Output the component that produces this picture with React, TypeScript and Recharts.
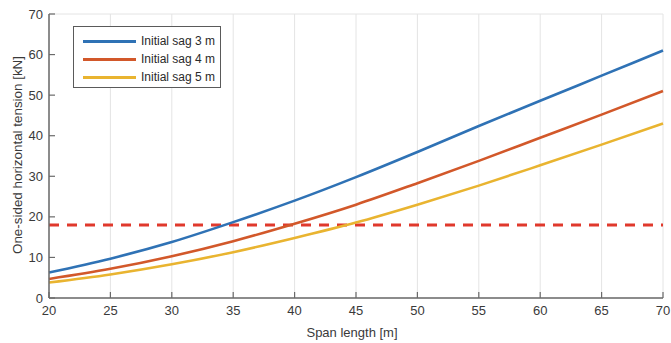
import React from "react";
import { LineChart, Line, XAxis, YAxis, CartesianGrid, ReferenceLine } from "recharts";

const spans = [20, 25, 30, 35, 40, 45, 50, 55, 60, 65, 70];
const sag3 = [6.3, 9.7, 13.8, 18.7, 24.0, 29.8, 36.0, 42.4, 48.6, 54.8, 61.0];
const sag4 = [4.7, 7.2, 10.3, 14.0, 18.3, 23.0, 28.3, 33.8, 39.5, 45.2, 51.0];
const sag5 = [3.8, 5.8, 8.3, 11.3, 14.8, 18.6, 23.0, 27.7, 32.7, 37.8, 43.0];
const threshold = 18;
const xTicks = [20, 25, 30, 35, 40, 45, 50, 55, 60, 65, 70];
const yTicks = [0, 10, 20, 30, 40, 50, 60, 70];
const seriesNames = ["Initial sag 3 m", "Initial sag 4 m", "Initial sag 5 m"];
const colors = ["#2f72b5", "#d2582a", "#e9b430"];

const data = spans.map((s, i) => ({ span: s, sag3: sag3[i], sag4: sag4[i], sag5: sag5[i] }));

const FONT = "'Liberation Sans', Arial, sans-serif";
const TXT = "#3a3a3a";
const AX = "#6a6a6a";

const BottomTick = (p: any) => (
  <g>
    <line x1={p.x} x2={p.x} y1={p.y} y2={p.y - 6} stroke={AX} strokeWidth={1.2} />
    <text x={p.x} y={p.y + 17} textAnchor="middle" fontSize={13} fill={TXT} fontFamily={FONT}>
      {p.payload.value}
    </text>
  </g>
);
const TopTick = (p: any) => (
  <line x1={p.x} x2={p.x} y1={p.y} y2={p.y + 6} stroke={AX} strokeWidth={1.2} />
);
const LeftTick = (p: any) => (
  <g>
    <line x1={p.x} x2={p.x + 6} y1={p.y} y2={p.y} stroke={AX} strokeWidth={1.2} />
    <text x={p.x - 6} y={p.y + 4.5} textAnchor="end" fontSize={13} fill={TXT} fontFamily={FONT}>
      {p.payload.value}
    </text>
  </g>
);
const RightTick = (p: any) => (
  <line x1={p.x} x2={p.x - 6} y1={p.y} y2={p.y} stroke={AX} strokeWidth={1.2} />
);

export default function App() {
  return (
    <div style={{ position: "absolute", left: 0, top: 0, width: 671, height: 343, background: "#fff", fontFamily: FONT }}>
      <LineChart width={671} height={343} data={data} margin={{ top: 14, right: 8, left: 9, bottom: 15 }}>
        <CartesianGrid stroke="#e4e4e4" strokeWidth={1} />
        <XAxis
          xAxisId="b"
          dataKey="span"
          type="number"
          domain={[20, 70]}
          ticks={xTicks}
          height={30}
          tickSize={0}
          tickMargin={0}
          tickLine={false}
          axisLine={{ stroke: AX, strokeWidth: 1.5 }}
          tick={<BottomTick />}
          interval={0}
        />
        <XAxis
          xAxisId="t"
          orientation="top"
          dataKey="span"
          type="number"
          domain={[20, 70]}
          ticks={xTicks}
          height={0}
          tickSize={0}
          tickMargin={0}
          tickLine={false}
          axisLine={{ stroke: AX, strokeWidth: 1.5 }}
          tick={<TopTick />}
          interval={0}
        />
        <YAxis
          yAxisId="l"
          type="number"
          domain={[0, 70]}
          ticks={yTicks}
          width={40}
          tickSize={0}
          tickMargin={0}
          tickLine={false}
          axisLine={{ stroke: AX, strokeWidth: 1.5 }}
          tick={<LeftTick />}
          interval={0}
        />
        <YAxis
          yAxisId="r"
          orientation="right"
          type="number"
          domain={[0, 70]}
          ticks={yTicks}
          width={0}
          tickSize={0}
          tickMargin={0}
          tickLine={false}
          axisLine={{ stroke: AX, strokeWidth: 1.5 }}
          tick={<RightTick />}
          interval={0}
        />
        <ReferenceLine xAxisId="b" yAxisId="l" y={threshold} stroke="#e0392c" strokeWidth={3} strokeDasharray="10 8" />
        <Line xAxisId="b" yAxisId="l" type="monotone" dataKey="sag3" name={seriesNames[0]} stroke={colors[0]} strokeWidth={2.6} dot={false} isAnimationActive={false} />
        <Line xAxisId="b" yAxisId="l" type="monotone" dataKey="sag4" name={seriesNames[1]} stroke={colors[1]} strokeWidth={2.6} dot={false} isAnimationActive={false} />
        <Line xAxisId="b" yAxisId="l" type="monotone" dataKey="sag5" name={seriesNames[2]} stroke={colors[2]} strokeWidth={2.6} dot={false} isAnimationActive={false} />
      </LineChart>
      <div
        style={{
          position: "absolute",
          left: 73,
          top: 26,
          width: 146,
          height: 60,
          border: "1.5px solid #5a5a5a",
          background: "#fff",
          boxSizing: "content-box",
        }}
      >
        {seriesNames.map((n, i) => (
          <div key={n} style={{ position: "absolute", left: 9, top: 5 + i * 18, height: 18, display: "flex", alignItems: "center" }}>
            <div style={{ width: 53, height: 3, background: colors[i] }} />
            <span style={{ marginLeft: 5, fontSize: 12, color: "#2a2a2a", whiteSpace: "nowrap" }}>{n}</span>
          </div>
        ))}
      </div>
      <div
        style={{
          position: "absolute",
          left: 17,
          top: 155,
          transform: "translate(-50%, -50%) rotate(-90deg)",
          fontSize: 13.4,
          color: TXT,
          whiteSpace: "nowrap",
        }}
      >
        One-sided horizontal tension [kN]
      </div>
      <div
        style={{
          position: "absolute",
          left: 352,
          top: 332,
          transform: "translate(-50%, -50%)",
          fontSize: 13,
          color: TXT,
          whiteSpace: "nowrap",
        }}
      >
        Span length [m]
      </div>
    </div>
  );
}
